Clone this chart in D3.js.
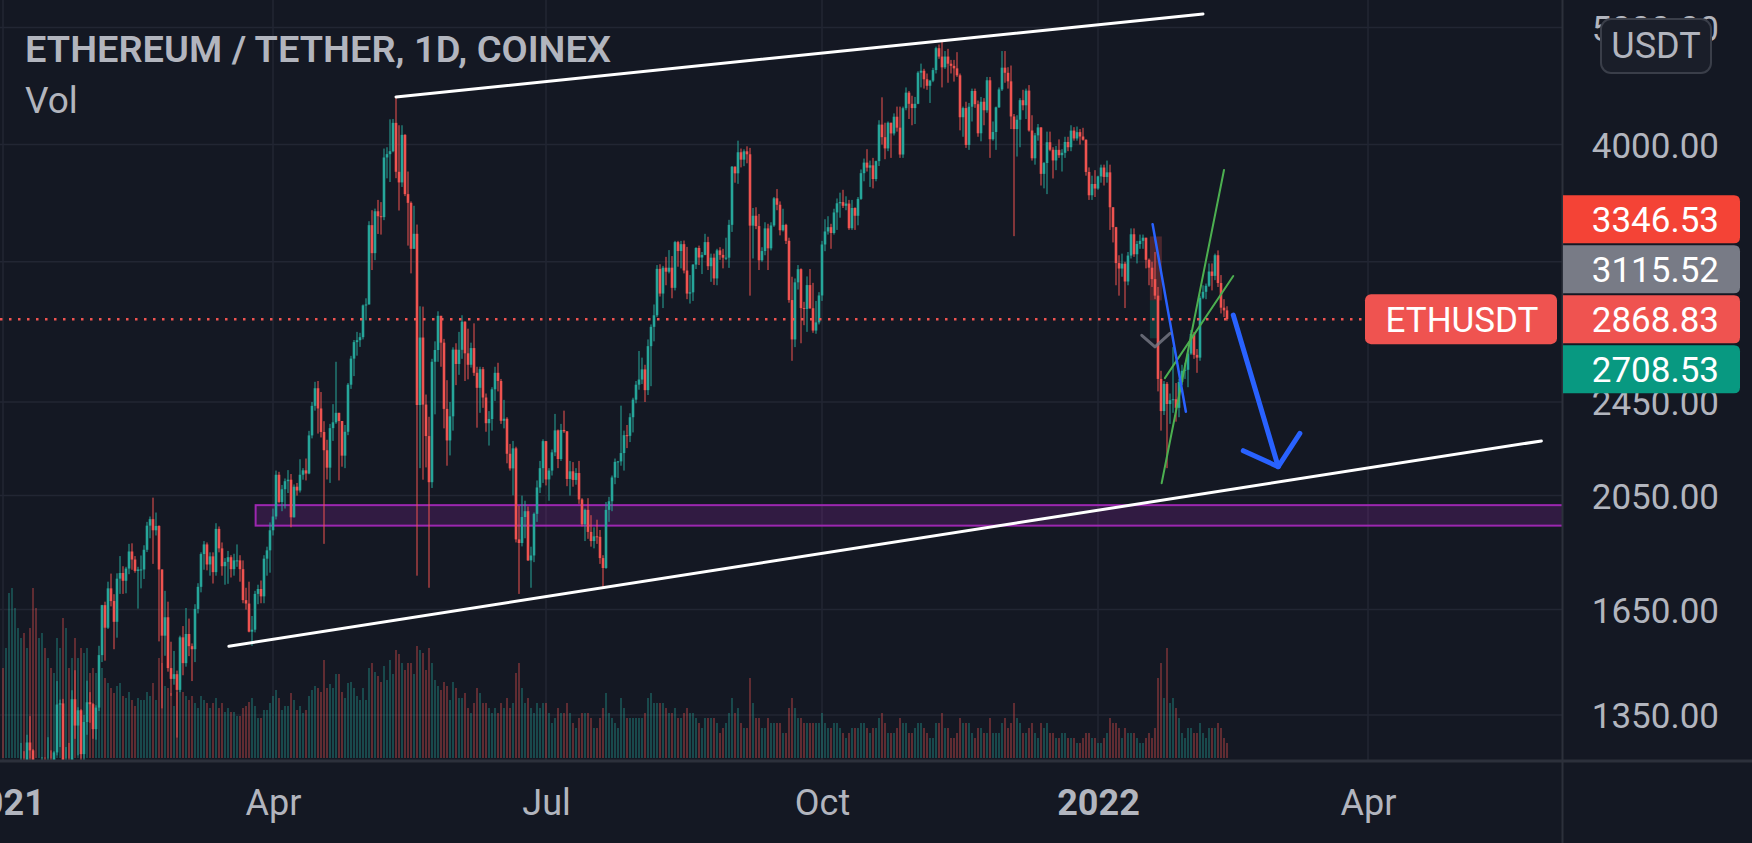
<!DOCTYPE html>
<html><head><meta charset="utf-8">
<script src="https://cdn.jsdelivr.net/npm/d3@7"></script>
<style>
html,body{margin:0;padding:0;background:#141823;overflow:hidden}
svg{display:block}
text{font-family:Roboto,"Noto Sans",sans-serif}
</style></head><body><svg id="c" width="1752" height="843"></svg>
<script>
// ---------------- DATA ----------------
const startDate = "2021-01-01";
const firstOpen = 737;
const closes = [
// Jan 2021
730,774,975,1041,1099,1208,1225,1224,1281,1262,1090,1043,1130,1218,1171,1233,1230,1257,1377,1380,1121,1236,1233,1391,1323,1362,1253,1332,1383,1378,1314,
// Feb
1369,1513,1664,1594,1718,1677,1612,1750,1769,1743,1784,1843,1815,1776,1781,1781,1849,1936,1960,1919,1935,1781,1570,1626,1476,1446,1459,1416,
// Mar
1565,1490,1575,1539,1530,1652,1723,1834,1868,1798,1826,1772,1924,1854,1792,1807,1823,1782,1812,1812,1782,1680,1669,1582,1588,1700,1716,1692,1818,1847,1919,
// Apr
1970,2133,2025,2075,2107,2113,1967,2085,2070,2133,2151,2138,2299,2432,2515,2420,2314,2235,2162,2331,2357,2400,2363,2212,2315,2532,2661,2746,2756,2772,
// May
2945,2950,3431,3253,3523,3490,3484,3903,3928,3950,4169,3798,3722,4075,3640,3580,3280,3375,2436,2770,2438,2296,2103,2645,2705,2887,2743,2418,2277,2384,2707,
// Jun
2634,2706,2855,2688,2630,2715,2590,2517,2608,2471,2353,2372,2510,2590,2550,2364,2373,2220,2159,2243,1886,1873,1968,1990,1812,1829,1980,2082,2160,2274,
// Jul
2114,2150,2226,2321,2198,2323,2317,2116,2147,2112,2140,2035,1941,1995,1913,1880,1897,1895,1820,1786,1995,2028,2122,2186,2188,2223,2300,2297,2380,2461,2532,
// Aug
2557,2607,2506,2725,2827,2890,3157,3012,3164,3140,3164,3045,3322,3266,3309,3147,3012,3019,3183,3285,3226,3242,3322,3173,3225,3100,3270,3242,3225,3225,3433,
// Sep
3835,3787,3942,3887,3949,3927,3428,3493,3425,3209,3266,3410,3283,3429,3611,3567,3398,3433,3330,2975,2760,3077,3155,2930,2925,3061,2929,2807,2851,3001,
// Oct
3307,3390,3418,3380,3515,3577,3585,3560,3575,3411,3545,3493,3607,3788,3865,3828,3845,3746,3876,4155,4057,3971,4170,4086,4218,4131,3925,4287,4416,4323,4288,
// Nov
4323,4587,4604,4530,4474,4518,4610,4806,4730,4634,4730,4666,4647,4625,4564,4214,4288,3997,4299,4430,4320,4087,4340,4270,4521,4041,4097,4294,4443,4631,
// Dec
4586,4512,4220,4120,4194,4353,4311,4433,4109,3897,4071,4133,3783,3862,4018,3961,3881,3960,3920,3938,4020,3980,4108,4047,4096,4062,4037,3797,3632,3711,3679,
// Jan 2022
3765,3829,3761,3794,3550,3418,3192,3159,3188,3082,3238,3372,3246,3310,3330,3350,3212,3164,3096,3000,2560,2408,2536,2441,2458,2463,2423,2545,2600,2605,2687,
// Feb 2022
2789,2680,2666,2988,3022,3057,3141,3115,3240,3073,2932,2917,2868.83
];
const highs = [
749,787,1011,1162,1134,1210,1280,1260,1300,1347,1265,1150,1140,1246,1245,1294,1262,1260,1440,1390,1392,1270,1280,1415,1470,1370,1365,1350,1441,1410,1381,
1375,1540,1665,1675,1740,1767,1699,1768,1827,1792,1790,1870,1872,1827,1790,1829,1865,1950,1970,2042,1985,1937,1781,1710,1675,1552,1525,1469,
1570,1599,1655,1622,1547,1667,1735,1840,1880,1875,1840,1840,1945,1933,1875,1820,1845,1830,1835,1868,1830,1812,1720,1740,1630,1710,1730,1744,1830,1860,1948,
2000,2150,2145,2092,2118,2152,2136,2094,2100,2197,2160,2200,2319,2450,2546,2550,2497,2362,2280,2350,2440,2645,2400,2363,2345,2540,2675,2757,2800,2795,
2950,2985,3457,3530,3541,3600,3585,3970,3980,4197,4200,4380,4150,4150,4080,3800,3590,3560,3435,2940,2938,2485,2382,2660,2750,2912,2887,2763,2554,2450,2719,
2740,2800,2890,2857,2817,2743,2846,2620,2620,2619,2490,2408,2520,2620,2640,2560,2460,2380,2262,2275,2250,2010,2050,2030,2008,1860,1985,2110,2190,2282,
2275,2160,2238,2395,2325,2350,2410,2318,2190,2185,2160,2190,2040,2000,2040,1975,1930,1958,1920,1830,2025,2045,2130,2200,2190,2433,2320,2345,2398,2470,2550,
2700,2666,2630,2760,2840,2950,3180,3185,3175,3230,3272,3235,3330,3330,3330,3332,3292,3120,3185,3290,3300,3260,3375,3356,3250,3250,3280,3290,3280,3350,3466,
3840,3838,4030,3970,3964,3987,3975,3545,3550,3505,3290,3450,3440,3450,3620,3675,3590,3540,3440,3350,3110,3100,3180,3160,2965,3112,3156,3074,2970,3020,
3330,3470,3490,3440,3540,3610,3650,3670,3625,3600,3600,3550,3620,3815,3895,3965,3880,3900,3880,4190,4377,4170,4180,4170,4245,4300,4300,4300,4460,4430,4390,
4380,4600,4667,4621,4580,4525,4630,4820,4840,4868,4780,4800,4700,4700,4770,4580,4300,4340,4330,4450,4450,4350,4380,4370,4550,4550,4180,4300,4460,4780,
4780,4635,4650,4240,4230,4370,4440,4450,4480,4230,4090,4160,4135,3870,4100,4100,3980,3990,4040,3965,4060,4060,4150,4135,4140,4120,4130,4040,3830,3770,3810,
3770,3850,3850,3880,3850,3550,3420,3240,3250,3200,3260,3410,3410,3330,3370,3370,3350,3220,3200,3260,3050,2600,2550,2545,2490,2720,2540,2560,2630,2640,2700,
2810,2800,2710,3000,3060,3070,3190,3190,3250,3270,3120,2980,2940
];
const lows = [
714,715,769,893,986,1052,1166,1106,1201,1170,900,1030,1014,1107,1100,1150,1166,1190,1250,1270,1110,1030,1215,1230,1290,1250,1220,1220,1300,1330,1290,
1288,1360,1493,1497,1590,1660,1530,1564,1700,1700,1702,1765,1780,1770,1653,1718,1749,1841,1890,1800,1900,1553,1367,1511,1466,1400,1430,1293,
1410,1456,1480,1510,1440,1493,1638,1705,1780,1778,1760,1734,1760,1840,1760,1730,1733,1754,1760,1790,1740,1670,1650,1580,1540,1580,1667,1670,1670,1760,1770,
1900,1959,2020,1990,2000,2060,1930,1966,2050,2062,2113,2110,2135,2286,2410,2307,2290,1870,2114,2100,2275,2350,2110,2166,2160,2300,2512,2574,2676,2721,
2760,2862,2950,3150,3210,3374,3370,3464,3751,3725,3942,3752,3528,3690,3626,3300,3130,3280,1760,2160,2113,2163,1720,2080,2393,2645,2620,2330,2170,2213,2320,
2530,2580,2660,2550,2558,2616,2575,2333,2400,2423,2315,2255,2320,2455,2500,2350,2330,2180,2150,2051,1875,1700,1861,1890,1810,1720,1806,1950,2060,2100,
2090,2030,2130,2210,2160,2190,2310,2087,2050,2085,2093,2018,1933,1880,1888,1860,1854,1870,1800,1717,1783,1950,1990,2095,2120,2170,2150,2244,2270,2312,2444,
2508,2535,2450,2483,2525,2750,2880,2995,2930,3060,3130,2985,3030,3170,3160,3130,2980,2955,2970,3156,3180,3126,3240,3150,3080,3062,3060,3212,3160,3210,3163,
3387,3720,3712,3830,3839,3860,3000,3220,3405,3150,3200,3240,3150,3270,3420,3530,3365,3390,3310,2960,2650,2720,3035,2740,2836,2800,2925,2795,2790,2840,
2970,3265,3370,3280,3370,3400,3480,3545,3530,3400,3400,3400,3430,3600,3730,3800,3690,3680,3730,3840,4000,3890,3950,3900,4070,4100,3900,3900,4270,4200,4150,
4160,4320,4460,4450,4440,4330,4505,4580,4710,4460,4620,4500,4580,4510,4550,4110,4060,3975,3960,4180,4290,4060,4025,4150,4250,3900,4030,3960,4290,4430,
4500,4450,4120,3360,3910,3980,4270,4200,4100,3880,3850,4030,3700,3680,3640,3950,3750,3810,3900,3800,3900,3950,3950,4030,4030,4000,4030,3770,3600,3600,3620,
3670,3720,3700,3720,3400,3320,3060,3000,3110,2930,3060,3220,3230,3190,3280,3280,3160,3060,3050,2980,2500,2320,2390,2160,2350,2400,2360,2380,2530,2560,2520,
2680,2660,2590,2650,2980,2980,3050,3030,3090,3050,2900,2880,2860
];
const volumes = [
90,110,165,170,150,130,120,125,110,130,170,150,120,125,110,100,90,85,120,110,140,130,90,100,120,100,110,105,110,85,90,
85,95,90,80,75,70,65,72,75,62,60,66,58,52,60,58,58,66,62,75,58,100,95,72,70,65,52,66,
70,66,62,58,62,55,50,62,58,55,50,55,60,50,55,46,50,46,46,42,42,50,52,56,60,52,40,40,48,48,55,
62,68,60,48,52,52,65,58,48,52,45,48,62,68,72,70,66,98,70,74,70,84,84,66,60,75,76,70,62,58,
70,58,90,95,86,82,76,92,78,98,84,108,104,95,88,95,95,84,112,108,105,88,110,95,78,72,68,76,72,58,76,
70,60,60,65,50,45,55,70,65,55,55,50,45,50,45,55,50,60,50,55,85,95,70,55,60,50,45,55,50,55,
55,45,35,40,50,45,45,55,45,35,30,40,45,45,45,40,30,30,40,50,65,45,40,35,30,60,50,40,40,40,40,
40,40,45,60,65,55,55,55,55,50,45,45,50,40,40,45,50,45,45,40,35,30,40,40,40,40,35,25,30,35,45,
60,45,50,35,30,30,80,55,40,40,30,30,40,35,35,35,35,25,25,50,60,50,40,40,35,35,35,35,35,35,
45,35,30,30,35,35,30,25,20,25,30,30,30,35,35,30,25,30,30,40,45,35,25,25,25,30,40,35,35,25,25,
30,35,35,30,25,20,20,35,35,45,30,30,20,20,25,40,35,35,35,25,20,30,30,25,25,40,25,25,25,35,
40,30,35,55,40,35,25,25,30,35,25,20,35,30,35,25,25,20,20,25,25,20,20,20,15,15,20,25,25,20,20,
15,15,20,25,40,35,35,30,20,30,25,25,25,20,15,15,20,25,20,30,80,95,60,110,55,60,50,40,25,20,30,
30,25,25,35,25,20,30,30,30,35,30,20,15
];
const priceTicks = [5000, 4000, 3200, 2450, 2050, 1650, 1350];
const timeTicks = ["2021-01-01","2021-04-01","2021-07-01","2021-10-01","2022-01-01","2022-04-01"];
const timeTickLabels = ["2021","Apr","Jul","Oct","2022","Apr"];
const priceLabelValues = [3346.53, 3115.52, 2868.83, 2708.53];
const priceLabelColors = ["#f44336", "#787b86", "#ef5350", "#089981"];
const symbolName = "ETHUSDT";
const titleText = "ETHEREUM / TETHER, 1D, COINEX";
const currencyText = "USDT";

// drawings (date, price)
const resistanceLine = [["2021-05-12", 4380], ["2022-02-05", 5130]];
const supportLine = [["2021-03-17T07:00", 1539], ["2022-05-28T19:00", 2275]];
const zoneStart = "2021-03-26T05:00", zoneTop = 2013, zoneBottom = 1936;
const channelLower = [["2022-01-22T05:00", 2099], ["2022-02-12", 3811]];
const channelUpper = [["2022-01-23T07:00", 2564], ["2022-02-15T02:00", 3114]];
const blueLine = [["2022-01-19T05:00", 3437], ["2022-01-30T07:00", 2405]];
const arrowShaft = [["2022-02-15T02:00", 2891], ["2022-03-02T02:00", 2166]];
const arrowHead = [["2022-02-18T10:00", 2233], ["2022-03-02T02:00", 2166], ["2022-03-09T07:00", 2308]];
const chevron = [["2022-01-15T14:00", 2782], ["2022-01-20T00:00", 2721], ["2022-01-25T00:00", 2792]];
const positionFrom = "2022-01-18T07:00", positionTo = "2022-01-22T07:00";
const positionStop = 3358, positionEntry = 2973, positionTarget = 2766;

// ---------------- LAYOUT ----------------
const W = 1752, H = 843, plotW = 1562, paneH = 760;
const pd = s => new Date(s.length === 10 ? s + "T00:00:00Z" : s + ":00Z");
const start = pd(startDate);
const bars = closes.map((c, i) => {
  const o = i === 0 ? firstOpen : closes[i - 1];
  return {d: d3.utcDay.offset(start, i), o, c, h: Math.max(highs[i], o, c), l: Math.min(lows[i], o, c), v: volumes[i]};
});

const x = d3.scaleUtc().domain([pd("2021-01-01"), pd("2022-04-01")]).range([3, 1368]);
const y = d3.scaleLog().domain([1239, 5268]).range([paneH, 0]);
const yv = d3.scaleLinear().domain([0, 200]).range([758, 558]);

const UP = "#26a69a", DOWN = "#ef5350", BG = "#141823", GRID = "#222633", SEP = "#2c303b", TXT = "#b2b5be";

const svg = d3.select("#c");
svg.append("rect").attr("width", W).attr("height", H).attr("fill", BG);
svg.append("clipPath").attr("id", "clip").append("rect").attr("width", plotW).attr("height", paneH);
const plot = svg.append("g").attr("clip-path", "url(#clip)");

// grid
plot.selectAll(".hg").data(priceTicks).join("line")
  .attr("x1", 0).attr("x2", plotW).attr("y1", d => y(d)).attr("y2", d => y(d))
  .attr("stroke", GRID).attr("stroke-width", 1.5);
plot.selectAll(".vg").data(timeTicks).join("line")
  .attr("x1", d => x(pd(d))).attr("x2", d => x(pd(d))).attr("y1", 0).attr("y2", paneH)
  .attr("stroke", GRID).attr("stroke-width", 1.5);

// purple zone
plot.append("rect")
  .attr("x", x(pd(zoneStart))).attr("y", y(zoneTop))
  .attr("width", plotW + 10 - x(pd(zoneStart))).attr("height", y(zoneBottom) - y(zoneTop))
  .attr("fill", "rgba(156,39,176,0.22)").attr("stroke", "#9c27b0").attr("stroke-width", 2);

// volume
plot.selectAll(".vol").data(bars).join("rect")
  .attr("x", d => x(d.d) - 0.7).attr("width", 1.4)
  .attr("y", d => yv(d.v)).attr("height", d => yv(0) - yv(d.v))
  .attr("fill", d => d.c >= d.o ? "rgba(38,166,154,0.5)" : "rgba(239,83,80,0.5)");

// position tool shading
plot.append("rect").attr("x", x(pd(positionFrom))).attr("width", x(pd(positionTo)) - x(pd(positionFrom)))
  .attr("y", y(positionStop)).attr("height", y(positionEntry) - y(positionStop)).attr("fill", "rgba(239,83,80,0.25)");
plot.append("rect").attr("x", x(pd(positionFrom))).attr("width", x(pd(positionTo)) - x(pd(positionFrom)) - 3)
  .attr("y", y(positionEntry)).attr("height", y(positionTarget) - y(positionEntry)).attr("fill", "rgba(8,153,129,0.25)");

// candles
const cg = plot.append("g");
cg.selectAll(".wick").data(bars).join("rect")
  .attr("x", d => x(d.d) - 0.5).attr("width", 1)
  .attr("y", d => y(d.h)).attr("height", d => Math.max(1, y(d.l) - y(d.h)))
  .attr("fill", d => d.c >= d.o ? UP : DOWN);
cg.selectAll(".body").data(bars).join("rect")
  .attr("x", d => x(d.d) - 1.3).attr("width", 2.6)
  .attr("y", d => y(Math.max(d.o, d.c))).attr("height", d => Math.max(1, Math.abs(y(d.o) - y(d.c))))
  .attr("fill", d => d.c >= d.o ? UP : DOWN);

// drawings
const line = d3.line().x(p => x(pd(p[0]))).y(p => y(p[1]));
const drawPath = (pts, color, w, cap) => plot.append("path").attr("d", line(pts)).attr("fill", "none")
  .attr("stroke", color).attr("stroke-width", w).attr("stroke-linecap", cap || "round").attr("stroke-linejoin", "round");
drawPath(resistanceLine, "#ffffff", 3);
drawPath(supportLine, "#ffffff", 3);
drawPath(channelLower, "#4caf50", 2);
drawPath(channelUpper, "#4caf50", 2);
drawPath(blueLine, "#2962ff", 2.5);
drawPath(chevron, "rgba(120,123,134,0.8)", 3);

// last price dotted line
const lastClose = closes[closes.length - 1];
plot.append("line").attr("x1", 0).attr("x2", 1365).attr("y1", y(lastClose)).attr("y2", y(lastClose))
  .attr("stroke", DOWN).attr("stroke-width", 2.5).attr("stroke-dasharray", "2.5,6.5");

drawPath(arrowShaft, "#2962ff", 5);
drawPath(arrowHead, "#2962ff", 5);

// symbol label
const ly = y(lastClose);
plot.append("rect").attr("x", 1365).attr("y", ly - 25).attr("width", 192).attr("height", 50).attr("rx", 6).attr("fill", DOWN);
plot.append("text").attr("x", 1462).attr("y", ly + 12.5).attr("text-anchor", "middle")
  .attr("font-size", 35).attr("fill", "#ffffff").text(symbolName);

// title
svg.append("text").attr("x", 25).attr("y", 62).attr("font-size", 37).attr("font-weight", 600)
  .attr("fill", TXT).attr("textLength", 586).attr("lengthAdjust", "spacingAndGlyphs").text(titleText);
svg.append("text").attr("x", 25).attr("y", 113).attr("font-size", 37).attr("font-weight", 400)
  .attr("fill", TXT).text("Vol");

// separators
svg.append("line").attr("x1", 0).attr("x2", W).attr("y1", paneH + 1).attr("y2", paneH + 1).attr("stroke", SEP).attr("stroke-width", 3);
svg.append("line").attr("x1", plotW + 0.5).attr("x2", plotW + 0.5).attr("y1", 0).attr("y2", H).attr("stroke", SEP).attr("stroke-width", 2);

// price label box positions (stacked around the last price)
const boxH = 50, anchorIdx = priceLabelValues.indexOf(lastClose);
const centers = priceLabelValues.map(v => y(v));
for (let i = anchorIdx - 1; i >= 0; i--) centers[i] = Math.min(centers[i], centers[i + 1] - boxH);
for (let i = anchorIdx + 1; i < centers.length; i++) centers[i] = Math.max(centers[i], centers[i - 1] + boxH);

// price axis (a tick label fully covered by a price box is hidden, as on the platform)
const visibleTick = v => !centers.some(c => Math.abs(c - y(v)) < 14);
const ya = svg.append("g").attr("transform", `translate(${plotW},0)`)
  .call(d3.axisRight(y).tickValues(priceTicks.filter(visibleTick)).tickFormat(d3.format(".2f")).tickSize(0));
ya.select(".domain").remove();
ya.selectAll("text").attr("x", 157).attr("dy", "0.36em").attr("text-anchor", "end")
  .attr("font-size", 35).attr("fill", TXT).attr("font-family", "Roboto");

// time axis
const xa = svg.append("g").attr("transform", `translate(0,${paneH})`)
  .call(d3.axisBottom(x).tickValues(timeTicks.map(pd)).tickFormat((d, i) => timeTickLabels[i]).tickSize(0));
xa.select(".domain").remove();
xa.selectAll("text").attr("y", 55).attr("dy", 0).attr("font-size", 36).attr("fill", TXT)
  .attr("font-family", "Roboto").attr("font-weight", (d, i) => /^\d{4}$/.test(timeTickLabels[i]) ? 700 : 400);

const rr = (x0, y0, w, h, r) => `M${x0},${y0}H${x0 + w - r}Q${x0 + w},${y0} ${x0 + w},${y0 + r}V${y0 + h - r}Q${x0 + w},${y0 + h} ${x0 + w - r},${y0 + h}H${x0}Z`;
const lb = svg.append("g");
priceLabelValues.forEach((v, i) => {
  lb.append("path").attr("d", rr(plotW + 1, centers[i] - 24, 177, 48, 6)).attr("fill", priceLabelColors[i]);
  lb.append("text").attr("x", 1719).attr("y", centers[i] + 12.5).attr("text-anchor", "end")
    .attr("font-size", 35).attr("fill", "#ffffff").text(d3.format(".2f")(v));
});

// currency box
svg.append("rect").attr("x", 1601).attr("y", 19).attr("width", 110).attr("height", 54).attr("rx", 10)
  .attr("fill", "#1a1e29").attr("stroke", "#3a3e49").attr("stroke-width", 2);
svg.append("text").attr("x", 1656).attr("y", 58).attr("text-anchor", "middle").attr("font-size", 36)
  .attr("fill", TXT).text(currencyText);
</script></body></html>
